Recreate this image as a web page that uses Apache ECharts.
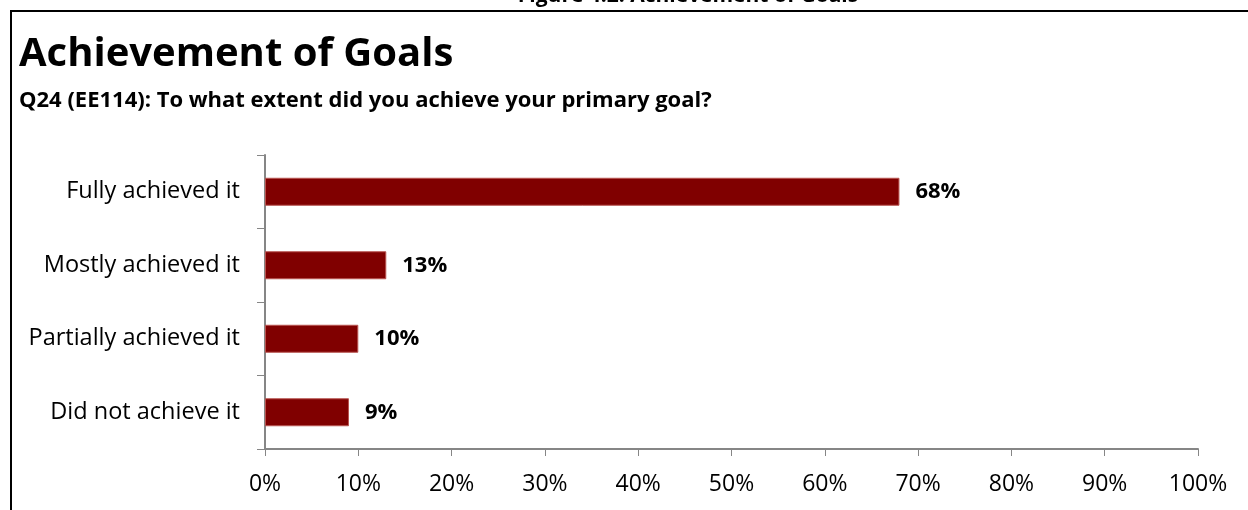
<!DOCTYPE html>
<html>
<head>
<meta charset="utf-8">
<style>
  html, body { margin: 0; padding: 0; background: #fff; }
  #chart { width: 1248px; height: 510px; }
</style>
<script src="https://cdn.jsdelivr.net/npm/echarts@6/dist/echarts.min.js"></script>
</head>
<body>
<div id="chart"></div>
<script>
// Survey answers, top to bottom
const categories = ['Fully achieved it', 'Mostly achieved it', 'Partially achieved it', 'Did not achieve it'];
// Share of respondents (%)
const shares = [68, 13, 10, 9];
// Percent axis ticks
const axisMin = 0, axisMax = 100, axisStep = 10;

const FONT = '"Open Sans", Lato, sans-serif';
const chart = echarts.init(document.getElementById('chart'), null, { renderer: 'canvas' });

chart.setOption({
  backgroundColor: '#ffffff',
  animation: false,
  graphic: [
    // frame: top rule and left rule
    { type: 'line', shape: { x1: 10, y1: 11, x2: 1248, y2: 11 }, style: { stroke: '#000', lineWidth: 2 } },
    { type: 'line', shape: { x1: 11, y1: 10, x2: 11, y2: 510 }, style: { stroke: '#000', lineWidth: 2 } },
    // figure caption, mostly above the page edge
    { type: 'text', x: 688, y: 7, style: { text: 'Figure 4.2: Achievement of Goals', font: 'bold 21px ' + FONT, fill: '#000', align: 'center', verticalAlign: 'bottom' } },
    { type: 'text', x: 19, y: 55, style: { text: 'Achievement of Goals', font: 'bold 40px ' + FONT, fill: '#000', verticalAlign: 'middle' } },
    { type: 'text', x: 19, y: 101, style: { text: 'Q24 (EE114): To what extent did you achieve your primary goal?', font: 'bold 22px ' + FONT, fill: '#000', verticalAlign: 'middle' } }
  ],
  grid: { left: 265, right: 50, top: 155, bottom: 61, containLabel: false },
  xAxis: {
    type: 'value',
    min: axisMin, max: axisMax, interval: axisStep,
    axisLine: { show: true, lineStyle: { color: '#868686', width: 2 } },
    axisTick: { show: true, length: 7, lineStyle: { color: '#868686', width: 1 } },
    splitLine: { show: false },
    axisLabel: { formatter: '{value}%', color: '#000', fontFamily: FONT, fontSize: 23, margin: 24 }
  },
  yAxis: {
    type: 'category',
    data: categories,
    inverse: true,
    axisLine: { show: true, lineStyle: { color: '#868686', width: 2 } },
    axisTick: { show: true, length: 8, lineStyle: { color: '#868686', width: 1 } },
    axisLabel: { color: '#000', fontFamily: FONT, fontSize: 23.5, margin: 25 }
  },
  series: [{
    type: 'bar',
    data: shares,
    barWidth: 28,
    itemStyle: { color: '#800000', borderColor: '#b85450', borderWidth: 1 },
    label: {
      show: true, position: 'right', distance: 16,
      formatter: p => p.value + '%',
      color: '#000', fontFamily: FONT, fontSize: 22, fontWeight: 'bold'
    }
  }]
});
</script>
</body>
</html>
